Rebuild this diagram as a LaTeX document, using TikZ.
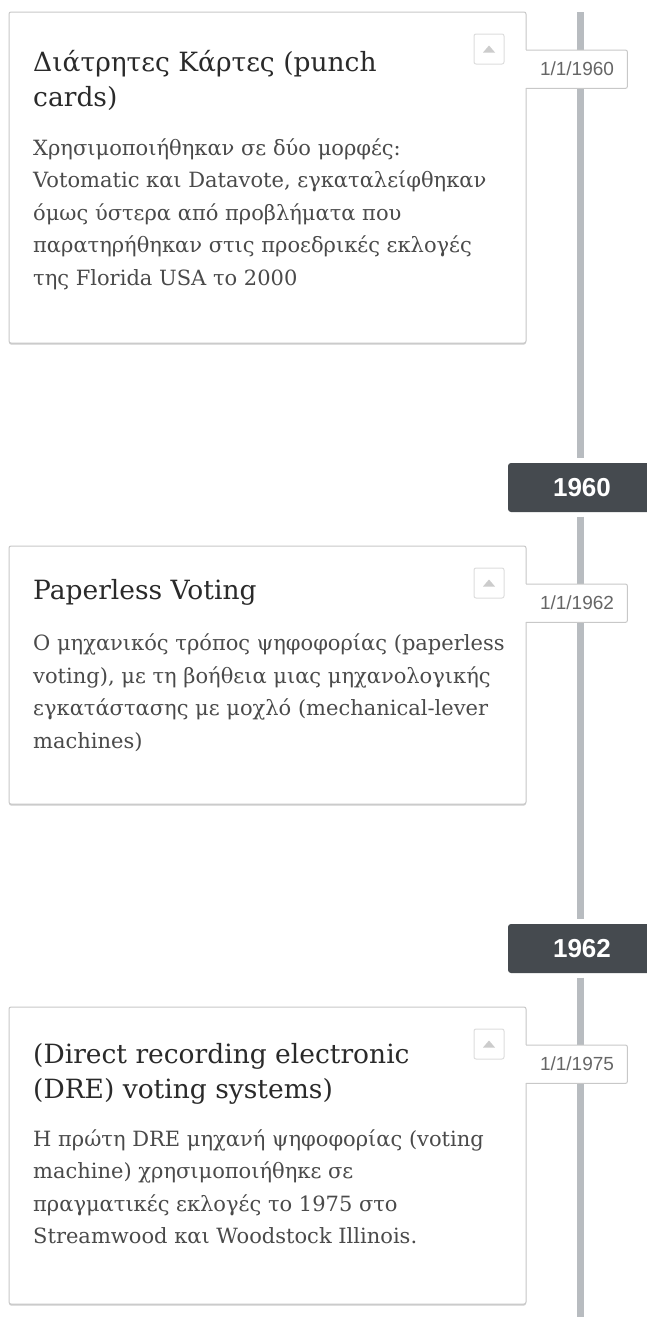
\documentclass[tikz,border=0pt]{standalone}
\usepackage{fontspec}
\newfontfamily\cardfont{DejaVu Serif}
\newfontfamily\labelfont{Liberation Sans}
\usetikzlibrary{shadows}
\definecolor{cardborder}{HTML}{C8C8C8}
\definecolor{titlecol}{HTML}{2A2A2A}
\definecolor{bodycol}{HTML}{4A4A4A}
\definecolor{datecol}{HTML}{666666}
\definecolor{linecol}{HTML}{B8BCC0}
\definecolor{yearcol}{HTML}{454A4F}
\definecolor{btnborder}{HTML}{DDDDDD}
\definecolor{btntri}{HTML}{CCCCCC}
\tikzset{
  card/.style={draw=cardborder, line width=1pt, fill=white, rounded corners=2pt,
    inner sep=0pt, drop shadow={shadow xshift=0pt, shadow yshift=-1.5pt, opacity=0.2, fill=black}},
  labelfill/.style={fill=white, inner sep=0pt, minimum width=102pt, minimum height=38pt},
  labelborder/.style={draw=cardborder, line width=1pt, rounded corners=2pt},
  datetext/.style={font=\labelfont\fontsize{19}{22}\selectfont, text=datecol, inner sep=0pt},
  yearbox/.style={fill=yearcol, rounded corners=3pt, minimum width=148pt, minimum height=49pt,
    inner sep=0pt, text=white, font=\labelfont\bfseries\fontsize{26}{28}\selectfont},
  timeline/.style={draw=linecol, line width=7pt},
  btn/.style={draw=btnborder, line width=1pt, fill=white, rounded corners=2pt, minimum size=30pt, inner sep=0pt},
  titletext/.style={anchor=north west, inner sep=0pt, align=left, text=titlecol,
    font=\cardfont\fontsize{26.5}{35}\selectfont},
  bodytext/.style={anchor=north west, inner sep=0pt, align=left, text=bodycol,
    font=\cardfont\fontsize{21}{32.5}\selectfont},
}
\newcommand{\tstrut}{\rule{0pt}{26pt}}
\newcommand{\bstrut}{\rule{0pt}{22pt}}
\begin{document}
\begin{tikzpicture}[x=1pt,y=-1pt]
\useasboundingbox (0,0) rectangle (647,1317);
\fill[white] (0,0) rectangle (647,1317);

% year boxes
\node[yearbox] (y1960) at (582,487.5) {1960};
\node[yearbox] (y1962) at (582,948.5) {1962};

% timeline
\coordinate (ltop) at (580.5,12);
\coordinate (lbot) at (580.5,1317);
\draw[timeline] (ltop) -- ([yshift=4.5pt]y1960.north -| ltop);
\draw[timeline] ([yshift=-4.5pt]y1960.south -| ltop) -- ([yshift=4.5pt]y1962.north -| ltop);
\draw[timeline] ([yshift=-4.5pt]y1962.south -| ltop) -- (lbot);

% ---------- card 1 ----------
\node[card, minimum width=517pt, minimum height=331pt] (card1) at (267.5,177.5) {};
\node[labelfill, anchor=north west] (lab1) at (525,50) {};
\draw[labelborder] ([xshift=1pt]lab1.north west) -- (lab1.north east) -- (lab1.south east) -- ([xshift=1pt]lab1.south west);
\node[datetext] (d1) at (577,69) {1/1/1960};
\node[btn] (b1) at (489,49) {};
\fill[btntri] ([shift={(-6,3.5)}]b1.center) -- ([shift={(6,3.5)}]b1.center) -- ([shift={(0,-3.5)}]b1.center) -- cycle;
\node[titletext] (t1) at (33,71.5-26) {\tstrut Διάτρητες Κάρτες (punch\\cards)};
\node[bodytext] (p1) at (33,155-22) {\bstrut Χρησιμοποιήθηκαν σε δύο μορφές:\\Votomatic και Datavote, εγκαταλείφθηκαν\\όμως ύστερα από προβλήματα που\\παρατηρήθηκαν στις προεδρικές εκλογές\\της Florida USA το 2000};

% ---------- card 2 ----------
\node[card, minimum width=517pt, minimum height=258pt] (card2) at (267.5,675) {};
\node[labelfill, anchor=north west] (lab2) at (525,584) {};
\draw[labelborder] ([xshift=1pt]lab2.north west) -- (lab2.north east) -- (lab2.south east) -- ([xshift=1pt]lab2.south west);
\node[datetext] (d2) at (577,603) {1/1/1962};
\node[btn] (b2) at (489,583) {};
\fill[btntri] ([shift={(-6,3.5)}]b2.center) -- ([shift={(6,3.5)}]b2.center) -- ([shift={(0,-3.5)}]b2.center) -- cycle;
\node[titletext] (t2) at (33,599-26) {\tstrut Paperless Voting};
\node[bodytext] (p2) at (33,650.5-22) {\bstrut Ο μηχανικός τρόπος ψηφοφορίας (paperless\\voting), με τη βοήθεια μιας μηχανολογικής\\εγκατάστασης με μοχλό (mechanical-lever\\machines)};

% ---------- card 3 ----------
\node[card, minimum width=517pt, minimum height=297pt] (card3) at (267.5,1155.5) {};
\node[labelfill, anchor=north west] (lab3) at (525,1045) {};
\draw[labelborder] ([xshift=1pt]lab3.north west) -- (lab3.north east) -- (lab3.south east) -- ([xshift=1pt]lab3.south west);
\node[datetext] (d3) at (577,1064) {1/1/1975};
\node[btn] (b3) at (489,1044) {};
\fill[btntri] ([shift={(-6,3.5)}]b3.center) -- ([shift={(6,3.5)}]b3.center) -- ([shift={(0,-3.5)}]b3.center) -- cycle;
\node[titletext] (t3) at (33,1063-26) {\tstrut (Direct recording electronic\\(DRE) voting systems)};
\node[bodytext] (p3) at (33,1146-22) {\bstrut Η πρώτη DRE μηχανή ψηφοφορίας (voting\\machine) χρησιμοποιήθηκε σε\\πραγματικές εκλογές το 1975 στο\\Streamwood και Woodstock Illinois.};
\end{tikzpicture}
\end{document}
